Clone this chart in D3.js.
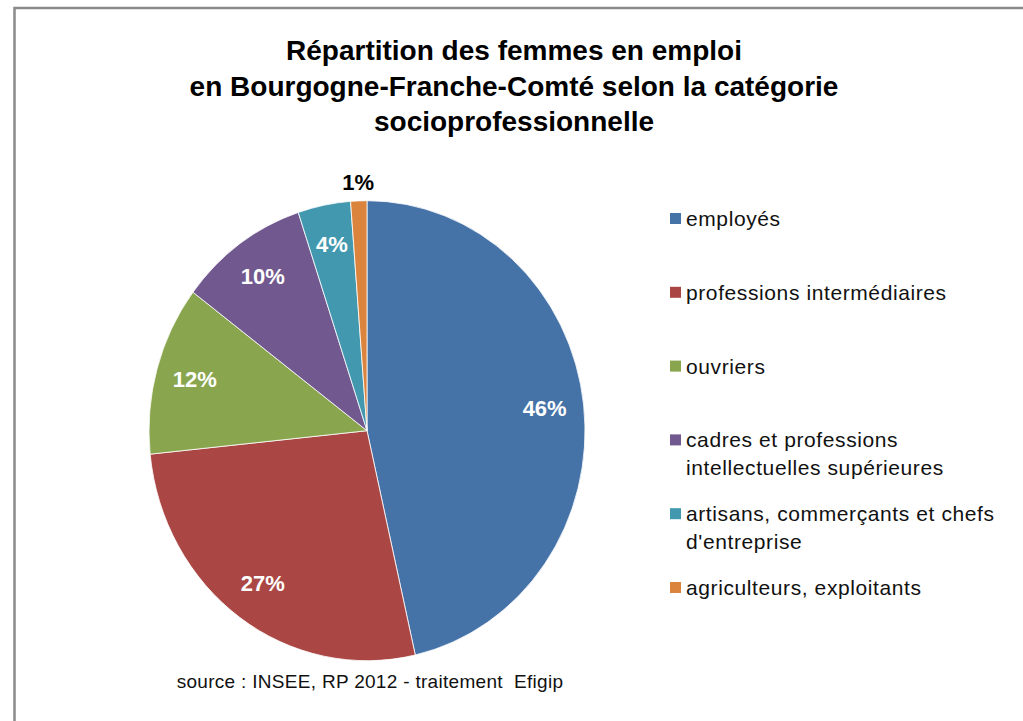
<!DOCTYPE html>
<html>
<head>
<meta charset="utf-8">
<script src="https://cdn.jsdelivr.net/npm/d3@7"></script>
<style>
  body { margin: 0; background: #fff; }
  text { font-family: "Liberation Sans", Arial, sans-serif; }
</style>
</head>
<body>
<div id="chart"></div>
<script>
// data
const categories = [
  "employés",
  "professions intermédiaires",
  "ouvriers",
  "cadres et professions\nintellectuelles supérieures",
  "artisans, commerçants et chefs\nd'entreprise",
  "agriculteurs, exploitants"
];
const values = [46.4, 26.9, 11.9, 9.6, 3.9, 1.2];
const colors = ["#4572A7", "#AA4643", "#89A54E", "#71588F", "#4198AF", "#DB843D"];
const titleLines = [
  "Répartition des femmes en emploi",
  "en Bourgogne-Franche-Comté selon la catégorie",
  "socioprofessionnelle"
];
const sourceText = "source : INSEE, RP 2012 - traitement  Efigip";

const width = 1023;
const height = 721;

// pie geometry (the original is slightly stretched vertically)
const cx = 367, cy = 430.7;
const rx = 218, ry = 230;
const sy = ry / rx;

const svg = d3.select("#chart").append("svg")
  .attr("width", width)
  .attr("height", height);

// chart frame
svg.append("rect")
  .attr("x", 14.5)
  .attr("y", 8)
  .attr("width", width + 20)
  .attr("height", height + 20)
  .attr("fill", "#fff")
  .attr("stroke", "#8a8a8a")
  .attr("stroke-width", 2.5);

// title
svg.append("g")
  .selectAll("text")
  .data(titleLines)
  .enter().append("text")
  .attr("x", 514)
  .attr("y", (d, i) => 60 + i * 35.5)
  .attr("text-anchor", "middle")
  .style("font-size", "28px")
  .style("font-weight", "bold")
  .attr("fill", "#000")
  .text(d => d);

// pie
const total = d3.sum(values);
const pie = d3.pie().sort(null).value(d => d)(values);
const arc = d3.arc().innerRadius(0).outerRadius(rx);
const labelArc = d3.arc().innerRadius(rx * 0.82).outerRadius(rx * 0.82);
const outerLabelArc = d3.arc().innerRadius(rx * 1.075).outerRadius(rx * 1.075);

svg.append("g")
  .attr("transform", `translate(${cx}, ${cy}) scale(1, ${sy})`)
  .selectAll("path")
  .data(pie)
  .enter().append("path")
  .attr("d", arc)
  .attr("fill", (d, i) => colors[i])
  .attr("stroke", "#fff")
  .attr("stroke-width", 0.8)
  .attr("vector-effect", "non-scaling-stroke");

// percent labels, small slices go outside
svg.append("g")
  .attr("transform", `translate(${cx}, ${cy})`)
  .selectAll("text")
  .data(pie)
  .enter().append("text")
  .attr("transform", d => {
    const small = d.value / total < 0.02;
    const c = (small ? outerLabelArc : labelArc).centroid(d);
    return `translate(${c[0]}, ${c[1] * sy})`;
  })
  .attr("dy", "0.3em")
  .attr("text-anchor", "middle")
  .style("font-size", "22px")
  .style("font-weight", "bold")
  .attr("fill", d => d.value / total < 0.02 ? "#000" : "#fff")
  .text(d => Math.round(d.value / total * 100) + "%");

// legend
const legendY = d3.scaleLinear().domain([0, categories.length - 1]).range([226, 595]);

const legend = svg.selectAll(".legend")
  .data(categories)
  .enter().append("g")
  .attr("class", "legend")
  .attr("transform", (d, i) => `translate(670, ${legendY(i)})`);

legend.append("rect")
  .attr("x", 0)
  .attr("y", -13)
  .attr("width", 11)
  .attr("height", 11)
  .attr("fill", (d, i) => colors[i]);

legend.append("text")
  .attr("x", 16)
  .style("font-size", "21px")
  .style("letter-spacing", "0.6px")
  .attr("fill", "#111")
  .each(function (d) {
    const t = d3.select(this);
    d.split("\n").forEach((line, j) => {
      t.append("tspan")
        .attr("x", 16)
        .attr("y", j * 28)
        .text(line);
    });
  });

// source (keeps the double space of the original)
svg.append("text")
  .attr("x", 370)
  .attr("y", 688)
  .attr("text-anchor", "middle")
  .style("font-size", "19px")
  .style("letter-spacing", "0.3px")
  .style("white-space", "pre")
  .attr("fill", "#111")
  .text(sourceText);
</script>
</body>
</html>
